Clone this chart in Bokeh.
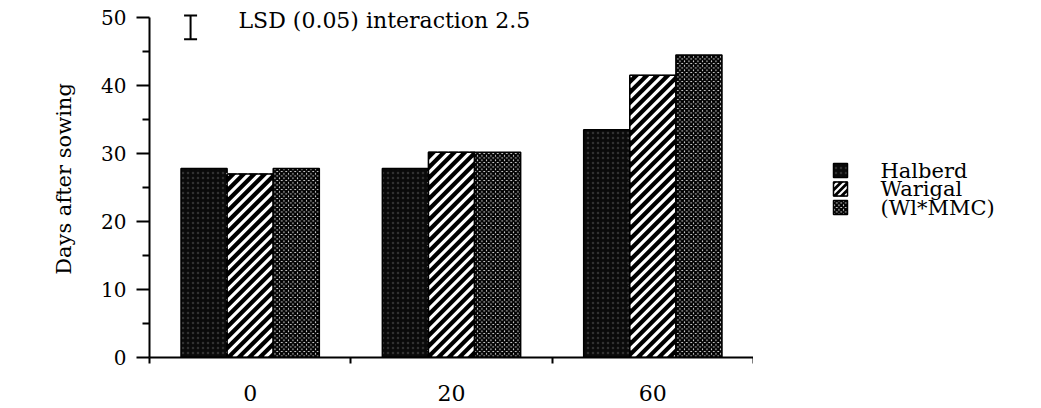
import math
from bokeh.plotting import figure
from bokeh.layouts import row
from bokeh.models import (Range1d, FixedTicker, Label, Whisker, TeeHead,
                          ColumnDataSource)
from bokeh.core.properties import value
from bokeh.embed import file_html
from bokeh.resources import INLINE

# ---- data ----
groups = ["0", "20", "60"]
series_names = ["Halberd", "Warigal", "(Wl*MMC)"]
halberd = [27.8, 27.8, 33.5]
warigal = [27.0, 30.2, 41.5]
wmmc = [27.8, 30.2, 44.5]
y_ticks = [0, 10, 20, 30, 40, 50]
y_minor = [5, 15, 25, 35, 45]
lsd_text = "LSD (0.05) interaction 2.5"
lsd_low = [46.8]
lsd_high = [50.3]

FONT = "DejaVu Serif"

# ---- layout constants ----
W_TOTAL, H = 1041, 408
W1 = 753
BL, BR, BT, BB = 149, 0, 0, 51
Y_AXIS_MAX = 50
Y_VIEW_MAX = 52.5          # a little head-room above the axis for the LSD note
n = len(groups)
FW, FH = W1 - BL - BR, H - BT - BB
kx = FW / n                # px per x unit
ky = FH / Y_VIEW_MAX       # px per y unit

centers = [i + 0.5 for i in range(n)]
bw = 0.229
HALB_STYLE = dict(fill_color="#0a0a0a", hatch_pattern="dot", hatch_color="white",
                  hatch_scale=5, hatch_weight=1, hatch_alpha=0.16)
MMC_STYLE = dict(fill_color="#f4f4f4", hatch_pattern="diagonal_cross",
                 hatch_color="black", hatch_scale=4.5, hatch_weight=2.1)


def stripes(rects, sx, sy, period, phase=0.0):
    """'/' stripes (45 deg on screen) clipped to rectangles (x0, x1, y0, y1)."""
    out = dict(x0=[], y0=[], x1=[], y1=[])
    for (x0, x1, y0, y1) in rects:
        X0, X1, Y0, Y1 = x0 * sx, x1 * sx, y0 * sy, y1 * sy
        k = math.floor((Y0 - X1 - phase) / period)
        while True:
            c = phase + k * period
            if c > Y1 - X0:
                break
            a, b = max(X0, Y0 - c), min(X1, Y1 - c)
            if a < b:
                out["x0"].append(a / sx); out["y0"].append((a + c) / sy)
                out["x1"].append(b / sx); out["y1"].append((b + c) / sy)
            k += 1
    return out


p = figure(width=W1, height=H, output_backend="svg", toolbar_location=None,
           x_range=Range1d(0, n), y_range=Range1d(0, Y_VIEW_MAX),
           min_border_left=BL, min_border_right=BR, min_border_top=BT,
           min_border_bottom=BB)
p.outline_line_color = None
p.xgrid.visible = False
p.ygrid.visible = False

xh = [c - bw for c in centers]
xw = centers
xm = [c + bw for c in centers]

# Halberd
p.vbar(x=xh, top=halberd, width=bw, line_color="black", line_width=1.5, **HALB_STYLE)
# Warigal: black bar + white diagonal stripes + outline
p.vbar(x=xw, top=warigal, width=bw, fill_color="black", line_color="black")
st = stripes([(x - bw / 2, x + bw / 2, 0, t) for x, t in zip(xw, warigal)],
             kx, ky, period=10.5)
p.segment(x0="x0", y0="y0", x1="x1", y1="y1", source=ColumnDataSource(st),
          line_color="white", line_width=3.2)
p.vbar(x=xw, top=warigal, width=bw, fill_color=None, line_color="black", line_width=1.5)
# (Wl*MMC)
p.vbar(x=xm, top=wmmc, width=bw, line_color="black", line_width=1.5, **MMC_STYLE)

# y axis
ya = p.yaxis[0]
ya.bounds = (0, Y_AXIS_MAX)
ya.ticker = FixedTicker(ticks=y_ticks, minor_ticks=y_minor)
ya.axis_line_width = 2
ya.major_tick_line_width = 2
ya.minor_tick_line_width = 2
ya.major_tick_out = 13
ya.major_tick_in = 0
ya.minor_tick_out = 7
ya.minor_tick_in = 0
ya.major_label_standoff = 10
ya.major_label_text_font = FONT
ya.major_label_text_font_size = "20px"
ya.major_label_text_color = "black"
ya.axis_label = "Days after sowing"
ya.axis_label_text_font = FONT
ya.axis_label_text_font_size = "21px"
ya.axis_label_text_font_style = "normal"
ya.axis_label_text_color = "black"
ya.axis_label_standoff = 22

# x axis
xa = p.xaxis[0]
xa.ticker = FixedTicker(ticks=centers, minor_ticks=list(range(n + 1)))
xa.major_label_overrides = {c: g for c, g in zip(centers, groups)}
xa.axis_line_width = 2
xa.major_tick_out = 0
xa.major_tick_in = 0
xa.minor_tick_out = 6
xa.minor_tick_in = 0
xa.minor_tick_line_width = 2
xa.major_label_standoff = 21
xa.major_label_text_font = FONT
xa.major_label_text_font_size = "22px"
xa.major_label_text_color = "black"

# LSD bar and text
lsd_src = ColumnDataSource(dict(x=[0.204], lo=lsd_low, hi=lsd_high))
p.add_layout(Whisker(source=lsd_src, base="x", lower="lo", upper="hi",
                     dimension="height", line_width=2, line_color="black",
                     upper_head=TeeHead(size=13, line_width=2, line_color="black"),
                     lower_head=TeeHead(size=13, line_width=2, line_color="black")))
p.add_layout(Label(x=0.442, y=49.55, text=lsd_text, text_baseline="middle",
                   text_font=FONT, text_font_size="22px", text_color="black"))

# ---- legend panel (pixel coordinates relative to its frame) ----
W2 = W_TOTAL - W1
p2 = figure(width=W2, height=H, output_backend="svg", toolbar_location=None,
            x_range=Range1d(0, W2), y_range=Range1d(0, FH),
            x_axis_location=None, y_axis_location=None,
            min_border_left=0, min_border_right=0,
            min_border_top=BT, min_border_bottom=BB)
p2.outline_line_color = None
p2.xgrid.visible = False
p2.ygrid.visible = False

sw = 14
sx0 = 80
row_y = [187, 168.5, 150]
p2.rect(x=sx0 + sw / 2, y=row_y[0], width=sw, height=sw, line_color="black",
        line_width=1.5, **HALB_STYLE)
p2.rect(x=sx0 + sw / 2, y=row_y[1], width=sw, height=sw, fill_color="black",
        line_color="black")
st2 = stripes([(sx0, sx0 + sw, row_y[1] - sw / 2, row_y[1] + sw / 2)], 1, 1, period=7)
p2.segment(x0="x0", y0="y0", x1="x1", y1="y1", source=ColumnDataSource(st2),
           line_color="white", line_width=2.2)
p2.rect(x=sx0 + sw / 2, y=row_y[1], width=sw, height=sw, fill_color=None,
        line_color="black", line_width=1.5)
p2.rect(x=sx0 + sw / 2, y=row_y[2], width=sw, height=sw, line_color="black",
        line_width=1.5, **MMC_STYLE)
p2.text(x=[127] * 3, y=row_y, text=series_names, text_font=value(FONT),
        text_font_size="21px", text_baseline="middle", text_color="black")

layout = row(p, p2)
open("out.html", "w").write(file_html(layout, INLINE))
